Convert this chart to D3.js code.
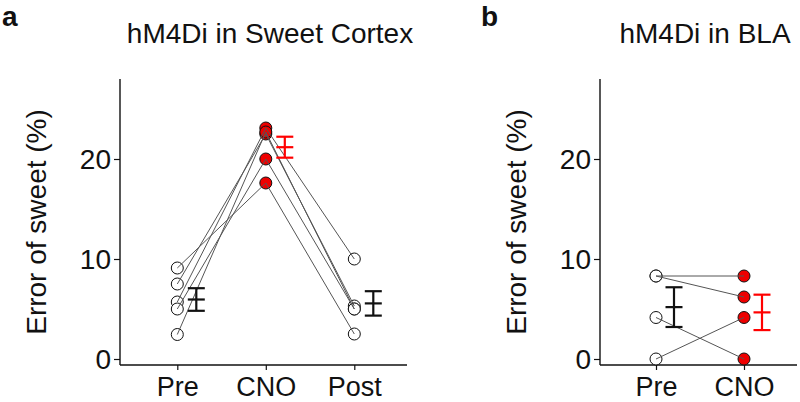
<!DOCTYPE html>
<html><head><meta charset="utf-8">
<script src="https://cdn.jsdelivr.net/npm/d3@7"></script>
<style>
html,body{margin:0;padding:0;background:#fff;}
text{font-family:"Liberation Sans",Arial,Helvetica,sans-serif;}
</style></head>
<body>
<svg id="chart" width="800" height="402"></svg>
<script>
// ---- data ----
const catsA = ["Pre", "CNO", "Post"];
const preA  = [9.1, 7.5, 5.7, 5.0, 2.45];
const cnoA  = [17.6, 22.5, 23.1, 20.0, 22.7];
const postA = [2.5, 5.3, 10.0, 5.0, 5.0];

const catsB = ["Pre", "CNO"];
const preB  = [8.3, 8.3, 4.15, 0.0];
const cnoB  = [8.3, 6.2, 0.0, 4.15];

const yTicks = [0, 10, 20];
const titleA = "hM4Di in Sweet Cortex";
const titleB = "hM4Di in BLA";
const yLabel = "Error of sweet (%)";

// ---- helpers ----
const svg = d3.select("#chart");
const mean = a => d3.mean(a);
const sem = a => d3.deviation(a) / Math.sqrt(a.length);

function panel(opts) {
  const {axisX, axisRight, pts, cats, series, fills, barColors, barOffset, title, titleX, letter, letterX, labelX} = opts;
  const y = d3.scaleLinear().domain([0, 28]).range([359, 79]);
  const x = d3.scalePoint().domain(cats).range(pts);
  const g = svg.append("g");
  const axisY = 365;

  // y axis
  g.append("line").attr("x1", axisX).attr("x2", axisX).attr("y1", 79).attr("y2", axisY)
    .attr("stroke", "#111").attr("stroke-width", 1.4);
  const ya = g.append("g").attr("transform", `translate(${axisX},0)`)
    .call(d3.axisLeft(y).tickValues(yTicks).tickSize(6).tickPadding(3));
  ya.select(".domain").remove();
  ya.selectAll("line").attr("stroke", "#111").attr("stroke-width", 1.2);
  ya.selectAll("text").attr("font-size", 28).attr("fill", "#111")
    .attr("font-family", "Liberation Sans, Arial, sans-serif").attr("dy", "0.35em");

  // x axis
  g.append("line").attr("x1", axisX).attr("x2", axisRight).attr("y1", axisY).attr("y2", axisY)
    .attr("stroke", "#111").attr("stroke-width", 1.4);
  const xa = g.append("g").attr("transform", `translate(0,${axisY})`)
    .call(d3.axisBottom(x).tickSize(5).tickPadding(7));
  xa.select(".domain").remove();
  xa.selectAll("line").attr("stroke", "#111").attr("stroke-width", 1.2);
  xa.selectAll("text").attr("font-size", 27).attr("fill", "#111")
    .attr("font-family", "Liberation Sans, Arial, sans-serif");

  // y label
  g.append("text").attr("transform", `translate(${labelX},222) rotate(-90)`)
    .attr("text-anchor", "middle").attr("font-size", 28).attr("fill", "#111").text(yLabel);

  // title
  g.append("text").attr("x", titleX).attr("y", 43).attr("text-anchor", "middle")
    .attr("font-size", 28).attr("fill", "#111").text(title);
  g.append("text").attr("x", letterX).attr("y", 25.5).attr("font-size", 28)
    .attr("font-weight", "bold").attr("fill", "#111").text(letter);

  // points
  series.forEach((vals, ci) => {
    g.selectAll(null).data(vals).enter().append("circle")
      .attr("cx", x(cats[ci])).attr("cy", d => y(d)).attr("r", 6)
      .attr("fill", fills[ci]).attr("stroke", "#111").attr("stroke-width", 1);
  });

  // connecting lines
  const n = series[0].length;
  const line = d3.line().x(d => x(d[0])).y(d => y(d[1]));
  for (let i = 0; i < n; i++) {
    const pts2 = cats.map((c, ci) => [c, series[ci][i]]);
    g.append("path").attr("d", line(pts2)).attr("fill", "none")
      .attr("stroke", "#555").attr("stroke-width", 1);
  }

  // error bars (mean ± SEM)
  series.forEach((vals, ci) => {
    const cx = x(cats[ci]) + barOffset;
    const m = mean(vals), s = sem(vals);
    const col = barColors[ci];
    const eb = g.append("g").attr("stroke", col).attr("stroke-width", 2.2);
    eb.append("line").attr("x1", cx).attr("x2", cx).attr("y1", y(m - s)).attr("y2", y(m + s));
    [m - s, m, m + s].forEach(v => {
      eb.append("line").attr("x1", cx - 8.5).attr("x2", cx + 8.5).attr("y1", y(v)).attr("y2", y(v));
    });
  });
}

panel({
  axisX: 120, axisRight: 407, pts: [177.3, 354.3], cats: catsA,
  series: [preA, cnoA, postA], fills: ["#fff", "#ee0000", "#fff"],
  barColors: ["#111", "#ff0000", "#111"], barOffset: 19,
  title: titleA, titleX: 270, letter: "a", letterX: 2, labelX: 46
});
panel({
  axisX: 600, axisRight: 797, pts: [656, 744], cats: catsB,
  series: [preB, cnoB], fills: ["#fff", "#ee0000"],
  barColors: ["#111", "#ff0000"], barOffset: 18,
  title: titleB, titleX: 705, letter: "b", letterX: 481, labelX: 526
});
</script>
</body></html>
